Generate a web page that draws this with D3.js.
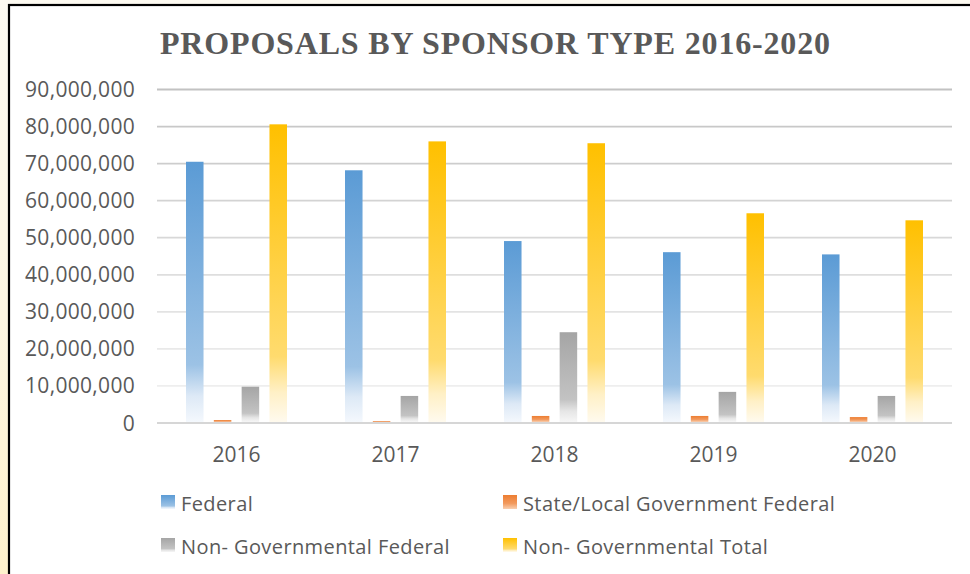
<!DOCTYPE html>
<html>
<head>
<meta charset="utf-8">
<script src="https://cdn.jsdelivr.net/npm/d3@7/dist/d3.min.js"></script>
<style>
  html, body { margin: 0; padding: 0; background: #ffffff; }
  svg { display: block; }
</style>
</head>
<body>
<svg id="chart" width="970" height="574"></svg>
<script>
const title = "PROPOSALS BY SPONSOR TYPE 2016-2020";
const years = ["2016", "2017", "2018", "2019", "2020"];
const seriesNames = ["Federal", "State/Local Government Federal", "Non- Governmental Federal", "Non- Governmental Total"];
const federal = [70500000, 68200000, 49100000, 46100000, 45500000];
const stateLocal = [800000, 500000, 1900000, 1900000, 1600000];
const nonGovFederal = [9800000, 7300000, 24500000, 8400000, 7300000];
const nonGovTotal = [80600000, 76000000, 75500000, 56600000, 54700000];
const yTicks = [0, 10000000, 20000000, 30000000, 40000000, 50000000, 60000000, 70000000, 80000000, 90000000];

const seriesValues = [federal, stateLocal, nonGovFederal, nonGovTotal];
const seriesColors = [
  { id: "gFed", stops: [[0, "#5b9bd5"], [0.78, "#9cc2e5"], [0.9, "#dde9f6"], [1, "#f4f8fd"]] },
  { id: "gSta", stops: [[0, "#ed7d31"], [0.6, "#f29a5e"], [1, "#f9cfb0"]] },
  { id: "gNgf", stops: [[0, "#a5a5a5"], [0.75, "#c3c3c3"], [0.88, "#e6e6e6"], [1, "#f6f6f6"]] },
  { id: "gNgt", stops: [[0, "#ffc000"], [0.78, "#ffdb6e"], [0.9, "#fff0c6"], [1, "#fffaee"]] }
];

const svg = d3.select("#chart");
const defs = svg.append("defs");

seriesColors.forEach(s => {
  const g = defs.append("linearGradient").attr("id", s.id)
    .attr("x1", 0).attr("y1", 0).attr("x2", 0).attr("y2", 1);
  s.stops.forEach(([o, c]) => g.append("stop").attr("offset", o).attr("stop-color", c));
});
const side = defs.append("linearGradient").attr("id", "sideG")
  .attr("x1", 0).attr("y1", 0).attr("x2", 0).attr("y2", 1);
side.append("stop").attr("offset", 0).attr("stop-color", "#fdfaf1");
side.append("stop").attr("offset", 0.55).attr("stop-color", "#fdf6e2");
side.append("stop").attr("offset", 1).attr("stop-color", "#fff2cc");

// background / frame
svg.append("rect").attr("x", 0).attr("y", 0).attr("width", 970).attr("height", 574).attr("fill", "url(#sideG)");
svg.append("rect").attr("x", 9).attr("y", 5).attr("width", 980).attr("height", 600)
  .attr("fill", "#ffffff").attr("stroke", "#000000").attr("stroke-width", 2.2);

// scales
const x0 = d3.scaleBand().domain(years).range([157, 952]);
const x1 = d3.scaleBand().domain(d3.range(seriesNames.length))
  .range([29, x0.bandwidth() - 29]).paddingInner(0.37);
const y = d3.scaleLinear().domain([0, 90000000]).range([423, 89.5]);

// gridlines
const gridColor = d3.scaleLinear().domain([10000000, 90000000]).range(["#eeeeee", "#c2c2c2"]);
svg.append("g").selectAll("line").data(yTicks).join("line")
  .attr("x1", 157).attr("x2", 952)
  .attr("y1", d => y(d)).attr("y2", d => y(d))
  .attr("stroke", d => d === 0 ? "#d6d6d6" : gridColor(d))
  .attr("stroke-width", 1.8);

// y axis labels
const fmt = d3.format(",");
svg.append("g").selectAll("text").data(yTicks).join("text")
  .attr("x", 135).attr("y", d => y(d) + 7.5)
  .attr("text-anchor", "end")
  .attr("font-family", "'Open Sans', sans-serif").attr("font-size", 21)
  .attr("letter-spacing", 0.3)
  .attr("fill", "#595959")
  .text(d => fmt(d));

// bars
const groups = svg.append("g").selectAll("g").data(years).join("g")
  .attr("transform", d => `translate(${x0(d)},0)`);
groups.selectAll("rect").data((d, i) => seriesValues.map((vals, s) => ({ s, v: vals[i] }))).join("rect")
  .attr("x", d => x1(d.s))
  .attr("width", x1.bandwidth())
  .attr("y", d => y(d.v))
  .attr("height", d => y(0) - y(d.v) - 1)
  .attr("fill", d => `url(#${seriesColors[d.s].id})`);

// x axis labels
svg.append("g").selectAll("text").data(years).join("text")
  .attr("x", d => x0(d) + x0.bandwidth() / 2)
  .attr("y", 461.5)
  .attr("text-anchor", "middle")
  .attr("font-family", "'Open Sans', sans-serif").attr("font-size", 21)
  .attr("fill", "#595959")
  .text(d => d);

// title
svg.append("text")
  .attr("x", 160).attr("y", 54)
  .attr("textLength", 670).attr("lengthAdjust", "spacing")
  .attr("font-family", "'Liberation Serif', 'DejaVu Serif', serif")
  .attr("font-weight", "bold").attr("font-size", 32)
  .attr("fill", "#595959")
  .text(title);

// legend
const legendPos = [[161, 495], [503, 495], [161, 538], [503, 538]];
const leg = svg.append("g").selectAll("g").data(seriesNames).join("g")
  .attr("transform", (d, i) => `translate(${legendPos[i][0]},${legendPos[i][1]})`);
leg.append("rect").attr("width", 14).attr("height", 14)
  .attr("fill", (d, i) => `url(#${seriesColors[i].id})`);
leg.append("text").attr("x", 20).attr("y", 15.5)
  .attr("font-family", "'Open Sans', sans-serif").attr("font-size", 20)
  .attr("letter-spacing", 0.4)
  .attr("fill", "#595959")
  .text(d => d);
</script>
</body>
</html>
